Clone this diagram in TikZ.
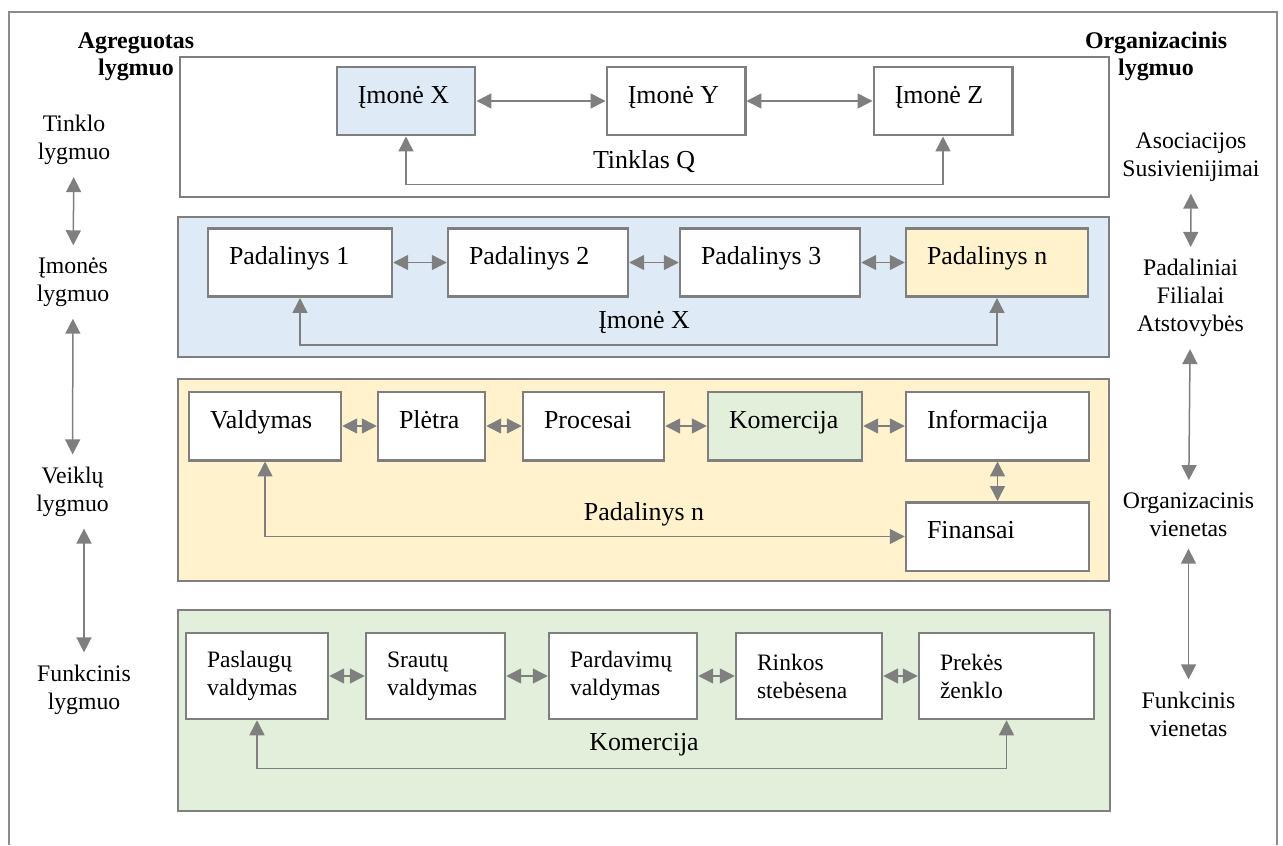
\documentclass[tikz,border=0pt]{standalone}
\usepackage{fontspec}
\setmainfont{Liberation Serif}
\usetikzlibrary{arrows.meta,positioning}

\definecolor{edgegray}{HTML}{7F7F7F}
\definecolor{framegray}{HTML}{8C8C8C}
\definecolor{netblue}{HTML}{DEEBF7}
\definecolor{deptsand}{HTML}{FFF2CC}
\definecolor{funcgreen}{HTML}{E2EFDA}

\begin{document}
\begin{tikzpicture}[x=0.02cm, y=-0.02cm,
  layer/.style={draw=edgegray, line width=0.5mm, inner sep=0pt},
  unit/.style={draw=edgegray, line width=0.5mm, fill=white, inner xsep=4.2mm, inner ysep=0pt,
    align=flush left, text width=#1, minimum height=13.7mm, text height=3.6mm, text depth=2.8mm,
    font=\fontsize{14.75pt}{17pt}\selectfont},
  func/.style={draw=edgegray, line width=0.5mm, fill=white, inner xsep=4.2mm, inner ysep=0pt,
    align=flush left, text width=#1, minimum height=17.2mm, font=\fontsize{13.4pt}{15.9pt}\selectfont},
  tag/.style={anchor=base, font=\fontsize{14.75pt}{17pt}\selectfont},
  lvl/.style={align=center, inner ysep=2.4mm, font=\fontsize{13.5pt}{15.9pt}\selectfont},
  head/.style={align=center, font=\fontsize{13.6pt}{15.4pt}\selectfont\bfseries},
  link/.style={draw=edgegray, line width=0.3mm, <->, >={Triangle[length=3mm,width=3mm]}}
]
\useasboundingbox (0,0) rectangle (1283,845);

% outer frame, open at the bottom
\draw[draw=framegray, line width=0.4mm] (9,845) |- (1277,12) -- (1277,845);

% --- the four layers ---
\node[layer, fill=white, minimum width=185.8mm, minimum height=28mm] (netLayer) at (644.5,127) {};
\node[layer, fill=netblue, minimum width=186.2mm, minimum height=28mm] (firmLayer) at (643.5,287) {};
\node[layer, fill=deptsand, minimum width=186.2mm, minimum height=40.4mm] (deptLayer) at (643.5,480) {};
\node[layer, fill=funcgreen, minimum width=186.4mm, minimum height=40.2mm] (funcLayer) at (644,710.5) {};

% --- Tinklas Q ---
\node[unit=19.3mm, fill=netblue] (firmX) at (406,101) {Įmonė X};
\node[unit=19.3mm] (firmY) at (676,101) {Įmonė Y};
\node[unit=19.3mm] (firmZ) at (943,101) {Įmonė Z};
\node[tag] (netLbl) at (644,168) {Tinklas Q};

\draw[link] (firmX) -- (firmY);
\draw[link] (firmY) -- (firmZ);
\draw[link] (firmX.south) -- ++(0,48) -| (firmZ.south);

% --- Įmonė X ---
\node[unit=28.4mm] (dept1) at (300,262.5) {Padalinys 1};
\node[unit=27.6mm] (dept2) at (538,262.5) {Padalinys 2};
\node[unit=27.6mm] (dept3) at (770,262.5) {Padalinys 3};
\node[unit=28mm, fill=deptsand] (deptN) at (997,262.5) {Padalinys n};
\node[tag] (firmLbl) at (644,328) {Įmonė X};

\draw[link] (dept1) -- (dept2);
\draw[link] (dept2) -- (dept3);
\draw[link] (dept3) -- (deptN);
\draw[link] (dept1.south) -- ++(0,47) -| (deptN.south);

% --- Padalinys n ---
\node[unit=22mm] (mgmt) at (265,426) {Valdymas};
\node[unit=13mm] (devel) at (431.5,426) {Plėtra};
\node[unit=19.8mm] (proc) at (593.5,426) {Procesai};
\node[unit=22.4mm, fill=funcgreen] (comm) at (785,426) {Komercija};
\node[unit=28.2mm] (info) at (997.5,426) {Informacija};
\node[unit=28.2mm] (fin) at (997.5,536.5) {Finansai};
\node[tag] (deptLbl) at (644,520) {Padalinys n};

\draw[link] (mgmt) -- (devel);
\draw[link] (devel) -- (proc);
\draw[link] (proc) -- (comm);
\draw[link] (comm) -- (info);
\draw[link] (info) -- (fin);
\draw[link] (mgmt.south) |- (fin.west);

% --- Komercija ---
\node[func=20mm] (svc) at (257,676) {Paslaugų\\valdymas};
\node[func=19.4mm] (flow) at (435.5,676) {Srautų\\valdymas};
\node[func=21.2mm] (sales) at (623,676) {Pardavimų\\valdymas};
\node[func=20.8mm] (market) at (809,676) {Rinkos\\stebėsena};
\node[func=26.6mm] (brand) at (1006.5,676) {Prekės\\ženklo};
\node[tag] (commLbl) at (644,750) {Komercija};

\draw[link] (svc) -- (flow);
\draw[link] (flow) -- (sales);
\draw[link] (sales) -- (market);
\draw[link] (market) -- (brand);
\draw[link] (svc.south) -- ++(0,48) -| (brand.south);

% --- level names, left ---
\node[head] (aggHead) at (136,56.5) {Agreguotas\\lygmuo};
\node[lvl] (lvlNet) at (74,140) {Tinklo\\lygmuo};
\node[lvl] (lvlFirm) at (73,282) {Įmonės\\lygmuo};
\node[lvl] (lvlAct) at (72.5,491.5) {Veiklų\\lygmuo};
\node[lvl] (lvlFunc) at (84,689.5) {Funkcinis\\lygmuo};

\draw[link] (lvlNet) -- (lvlFirm);
\draw[link] (lvlFirm) -- (lvlAct);
\draw[link] (lvlAct.south -| lvlFunc.north) -- (lvlFunc.north);

% --- organisation names, right ---
\node[head] (orgHead) at (1156,56) {Organizacinis\\lygmuo};
\node[lvl] (orgAssoc) at (1191,157) {Asociacijos\\Susivienijimai};
\node[lvl] (orgBranch) at (1190.5,298) {Padaliniai\\Filialai\\Atstovybės};
\node[lvl] (orgUnit) at (1188.5,514.4) {Organizacinis\\vienetas};
\node[lvl] (orgFunc) at (1188.5,714) {Funkcinis\\vienetas};

\draw[link] (orgAssoc) -- (orgBranch);
\draw[link] (orgBranch) -- (orgUnit);
\draw[link] (orgUnit) -- (orgFunc);

\end{tikzpicture}
\end{document}
